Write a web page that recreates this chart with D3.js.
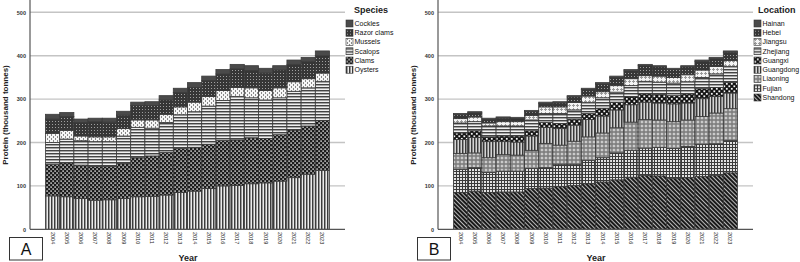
<!DOCTYPE html>
<html>
<head>
<meta charset="utf-8">
<script src="https://cdn.jsdelivr.net/npm/d3@7"></script>
<style>
  body{margin:0;background:#fff;}
  svg{display:block;font-family:"Liberation Sans",Arial,sans-serif;}
</style>
</head>
<body>
<svg id="chart" width="800" height="262"></svg>
<script>
// years on the x axis
var years=['2004','2005','2006','2007','2008','2009','2010','2011','2012','2013',
  '2014','2015','2016','2017','2018','2019','2020','2021','2022','2023']

// panel A, by species (thousand tonnes of protein), bottom to top
var speciesKeys=['Oysters','Clams','Scalops','Mussels','Razor clams','Cockles']
var oysters   =[77,75,71,67,68,71,75,76,79,85,88,94,100,101,105,107,111,119,127,136]
var clams     =[73,78,77,78,77,81,90,93,98,101,101,102,105,105,106,102,107,110,111,115]
var scalops   =[50,55,56,57,57,63,70,64,69,78,82,88,92,100,92,89,85,89,88,90]
var mussels   =[21,20,11,11,11,17,17,19,19,18,22,22,23,21,23,22,23,22,21,19]
var razorClams=[33,32,31,35,34,31,33,33,33,33,34,37,38,43,40,40,41,40,40,40]
var cockles   =[11,9,8,8,9,9,8,9,10,10,11,10,10,10,11,11,10,10,9,11]

// panel B, by location, bottom to top
var locationKeys=['Shandong','Fujian','Liaoning','Guangdong','Guangxi','Zhejiang','Jiangsu','Hebei','Hainan']
var shandong =[85,88,85,86,86,94,95,99,101,105,109,114,120,124,123,118,119,122,124,130]
var fujian   =[53,54,46,48,48,46,47,51,49,54,56,62,62,63,66,68,72,74,73,75]
var liaoning =[37,34,34,38,37,42,56,44,53,54,57,58,65,66,63,62,61,64,71,73]
var guangdong=[32,36,37,30,30,33,37,38,37,40,39,41,40,40,39,41,39,41,38,36]
var guangxi  =[15,15,11,13,14,12,11,12,14,14,18,18,19,19,20,19,21,23,21,25]
var zhejiang =[23,21,25,23,23,25,21,23,21,25,24,23,25,29,28,29,28,26,31,36]
var jiangsu  =[10,11,7,10,10,10,15,15,17,15,14,15,16,13,14,13,16,17,17,14]
var hebei    =[9,9,8,8,7,9,8,9,13,15,18,19,18,23,21,18,18,20,18,19]
var hainan   =[3,3,3,3,3,3,3,3,3,3,3,3,3,3,3,3,3,3,3,3]

var yTicks=[0,100,200,300,400,500]

function toRows(keys,cols){
    return years.map((yr,i)=>{
        var r={year:yr}
        keys.forEach((k,j)=>{r[k]=cols[j][i]})
        return r
    })
}
var dataA=toRows(speciesKeys,[oysters,clams,scalops,mussels,razorClams,cockles])
var dataB=toRows(locationKeys,[shandong,fujian,liaoning,guangdong,guangxi,zhejiang,jiangsu,hebei,hainan])

var svg=d3.select('#chart')
var defs=svg.append('defs')

// grey-scale hatch fills, like the SPSS output
function pat(id,w,h,bg,draw,tf){
    var p=defs.append('pattern').attr('id',id)
        .attr('patternUnits','userSpaceOnUse').attr('width',w).attr('height',h)
    if(tf) p.attr('patternTransform',tf)
    p.append('rect').attr('width',w).attr('height',h).attr('fill',bg)
    draw(p)
}
function rc(p,x,y,w,h,c){p.append('rect').attr('x',x).attr('y',y).attr('width',w).attr('height',h).attr('fill',c)}

pat('p-vert',3,3,'#9a9a9a',p=>{rc(p,0,0,1,3,'#3c3c3c');rc(p,2,0,1,3,'#ececec')})
pat('p-dots',4,4,'#1c1c1c',p=>{rc(p,0.4,0.4,1.4,1.4,'#f4f4f4');rc(p,2.4,2.4,1.4,1.4,'#f4f4f4')})
pat('p-horz',3,3,'#a4a4a4',p=>{rc(p,0,0,3,1,'#444');rc(p,0,2,3,1,'#f0f0f0')})
pat('p-light',4,4,'#f6f6f6',p=>{rc(p,1,0,1,2,'#8a8a8a');rc(p,3,2,1,2,'#8a8a8a')})
pat('p-dark',3,3,'#363636',p=>{rc(p,1,1,1,1,'#a0a0a0')})
pat('p-solid',4,4,'#4a4a4a',p=>{})
pat('p-diag',3,3,'#1a1a1a',p=>{rc(p,0,0,1,3,'#b8b8b8')},'rotate(-45)')
pat('p-grid',3,3,'#e2e2e2',p=>{rc(p,0,0,1,3,'#3a3a3a');rc(p,0,0,3,1,'#3a3a3a')})
pat('p-lattice',4,4,'#808080',p=>{
    p.append('polygon').attr('points','2,0.4 3.6,2 2,3.6 0.4,2').attr('fill','#e8e8e8')
    rc(p,1.6,1.6,0.8,0.8,'#666')
})
pat('p-vert2',3,3,'#8c8c8c',p=>{rc(p,0,0,1,3,'#3a3a3a');rc(p,2,0,1,3,'#d4d4d4')})
pat('p-dots2',5,5,'#121212',p=>{rc(p,0.4,0.4,1.8,1.8,'#f4f4f4');rc(p,2.9,2.9,1.8,1.8,'#f4f4f4')})
pat('p-smallgrid',4,4,'#f4f4f4',p=>{rc(p,1,0,1,3,'#9a9a9a');rc(p,0,1,3,1,'#9a9a9a')})

var fillA={'Oysters':'p-vert','Clams':'p-dots','Scalops':'p-horz','Mussels':'p-light','Razor clams':'p-dark','Cockles':'p-solid'}
var fillB={'Shandong':'p-diag','Fujian':'p-grid','Liaoning':'p-lattice','Guangdong':'p-vert2','Guangxi':'p-dots2',
    'Zhejiang':'p-horz','Jiangsu':'p-smallgrid','Hebei':'p-dark','Hainan':'p-solid'}

function drawPanel(conf){
    var ox=conf.ox
    var g=svg.append('g').attr('transform',`translate(${ox},0)`)
    var x=d3.scaleBand().domain(years).range([30,345]).paddingInner(0).paddingOuter(1.09)
    var y=d3.scaleLinear().domain([0,500]).range([229.3,12.3])

    // gridlines
    g.append('g').selectAll('line')
        .data(yTicks.filter(d=>d>0))
        .join('line')
        .attr('x1',30).attr('x2',345)
        .attr('y1',d=>y(d)).attr('y2',d=>y(d))
        .attr('stroke','#c4c4c4').attr('stroke-width',1.4)

    var series=d3.stack().keys(conf.keys)(conf.data)
    g.append('g').selectAll('g')
        .data(series)
        .join('g')
        .attr('fill',d=>`url(#${conf.fills[d.key]})`)
        .selectAll('rect')
        .data(d=>d)
        .join('rect')
        .attr('x',d=>x(d.data.year))
        .attr('width',x.bandwidth())
        .attr('y',d=>y(d[1]))
        .attr('height',d=>y(d[0])-y(d[1]))
        .attr('stroke','#3a3a3a')
        .attr('stroke-width',0.8)

    // axes
    var ya=g.append('g').attr('transform','translate(30,0)')
        .call(d3.axisLeft(y).tickValues(yTicks).tickSize(0).tickPadding(4))
    ya.select('.domain').remove()
    ya.selectAll('text').attr('font-size',5.5).attr('font-weight','bold').attr('fill','#333')
    g.append('line').attr('x1',30).attr('x2',30).attr('y1',0).attr('y2',229.3)
        .attr('stroke','#555').attr('stroke-width',1.2)
    g.append('line').attr('x1',30).attr('x2',345).attr('y1',229.3).attr('y2',229.3)
        .attr('stroke','#555').attr('stroke-width',1.2)

    g.append('g').selectAll('text')
        .data(years)
        .join('text')
        .attr('transform',d=>`translate(${x(d)+x.bandwidth()/2},232) rotate(90)`)
        .attr('dy','0.35em')
        .attr('font-size',5.5)
        .attr('fill','#222')
        .text(d=>d)

    g.append('text').attr('x',188).attr('y',261)
        .attr('text-anchor','middle').attr('font-size',9).attr('font-weight','bold')
        .attr('fill','#222').text('Year')
    g.append('text').attr('transform','translate(8,115) rotate(-90)')
        .attr('text-anchor','middle').attr('font-size',8).attr('font-weight','bold')
        .attr('fill','#222').text('Protein (thousand tonnes)')

    // panel letter box
    g.append('rect').attr('x',9.5).attr('y',237.5).attr('width',33).attr('height',22.5)
        .attr('fill','#fff').attr('stroke','#333').attr('stroke-width',1)
    g.append('text').attr('x',26).attr('y',254.5).attr('text-anchor','middle')
        .attr('font-size',16).attr('fill','#111').text(conf.letter)

    // legend, top item first
    var lg=g.append('g').attr('transform','translate(346,0)')
    lg.append('text').attr('x',conf.titleX).attr('y',13).attr('font-size',9)
        .attr('font-weight','bold').attr('fill','#222').text(conf.title)
    var items=conf.keys.slice().reverse()
    var row=lg.selectAll('g.item').data(items).join('g')
        .attr('transform',(d,i)=>`translate(0,${23.5+i*9.25})`)
    row.append('rect').attr('x',0).attr('y',-3.5).attr('width',7).attr('height',7)
        .attr('fill',d=>`url(#${conf.fills[d]})`).attr('stroke','#333').attr('stroke-width',0.6)
    row.append('text').attr('x',8.5).attr('dy','0.35em').attr('font-size',7)
        .attr('fill','#111').text(d=>d)
}

drawPanel({ox:0,keys:speciesKeys,data:dataA,fills:fillA,title:'Species',titleX:8,letter:'A'})
drawPanel({ox:408,keys:locationKeys,data:dataB,fills:fillB,title:'Location',titleX:4,letter:'B'})
</script>
</body>
</html>
